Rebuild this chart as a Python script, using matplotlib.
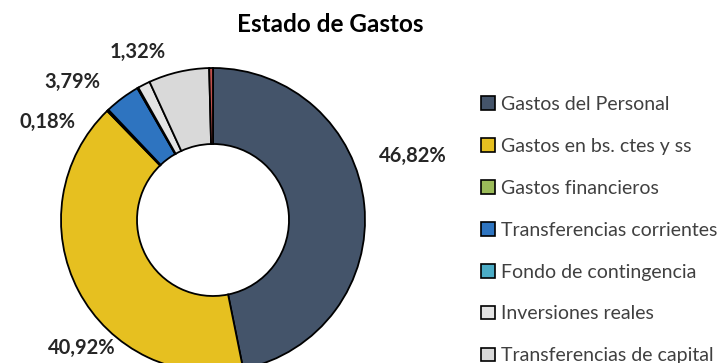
import matplotlib.pyplot as plt
from matplotlib.patches import Patch

# Budget breakdown (percent of total spending)
categorias = ['Gastos del Personal', 'Gastos en bs. ctes y ss', 'Gastos financieros',
              'Transferencias corrientes', 'Fondo de contingencia', 'Inversiones reales',
              'Transferencias de capital', 'Activos financieros']
porcentajes = [46.82, 40.92, 0.18, 3.79, 0.12, 1.32, 6.45, 0.40]
colores = ['#44546A', '#E6C020', '#9BBB59', '#2E74C0', '#4BACC6', '#E4E4E4',
           '#D9D9D9', '#C0504D']

# labels drawn for these slices, with figure positions (px from left, px from top)
etiquetas = {0: (413, 156), 1: (82, 348), 2: (48, 122), 3: (72, 82), 5: (138, 52)}

W, H = 727, 363
fig = plt.figure(figsize=(W / 100, H / 100), dpi=100)
plt.rcParams['font.family'] = ['Lato', 'DejaVu Sans']

cx, cy, r = 213, 220, 152
ax = fig.add_axes([(cx - r) / W, (H - cy - r) / H, 2 * r / W, 2 * r / H])
ax.pie(porcentajes, colors=colores, startangle=90, counterclock=False,
       radius=1, wedgeprops=dict(width=0.5, edgecolor='black', linewidth=1.3))
ax.set_xlim(-1, 1)
ax.set_ylim(-1, 1)
ax.set_aspect('equal')
ax.axis('off')

for i, (px, py) in etiquetas.items():
    txt = f'{porcentajes[i]:.2f}%'.replace('.', ',')
    fig.text(px / W, 1 - py / H, txt, ha='center', va='center',
             fontsize=14.5, fontweight='bold', color='#262626')

fig.text(330 / W, 1 - 25 / H, 'Estado de Gastos', ha='center', va='center',
         fontsize=17.5, fontweight='bold', color='black')

# the last category's legend row falls below the figure edge, so only the first seven are listed
handles = [Patch(facecolor=c, edgecolor='black', linewidth=1.2) for c in colores]
fig.legend(handles[:7], categorias[:7], loc='upper left',
           bbox_to_anchor=(481 / W, 1 - 96 / H),
           frameon=False, fontsize=14, labelcolor='#404040', handlelength=0.7,
           handleheight=0.7, handletextpad=0.35, labelspacing=1.28, borderaxespad=0,
           borderpad=0)

fig.savefig('out.png', dpi=100)
